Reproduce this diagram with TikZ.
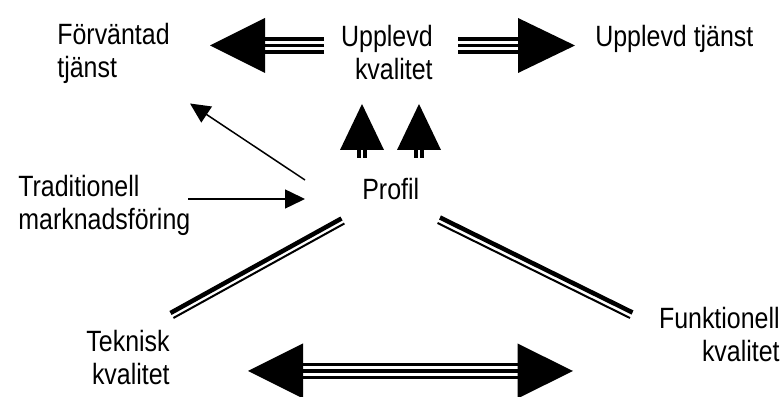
\documentclass[tikz,border=0pt]{standalone}
\usepackage{fontspec}
\setmainfont{Liberation Sans}[FakeStretch=0.85]
\usetikzlibrary{arrows.meta,calc}
\begin{document}
\begin{tikzpicture}[font=\fontsize{16.7}{19.3}\selectfont, >={Triangle[length=0.4cm,width=0.38cm]},
    lbl/.style={inner sep=0pt},
    shaft/.style={line width=0.07cm},
    stem/.style={line width=0.08cm},
    arr/.style={->, line width=0.03cm},
    rail/.style={line width=0.09cm},
    rl/.style={line width=0.04cm}]
  \useasboundingbox (0,0) rectangle (15.64,7.94);
  % labels (base = last line)
  \node[lbl, anchor=base west, align=left] (fv) at (1.14,6.38) {Förväntad\\tjänst};
  \node[lbl, anchor=base east, align=right] (uk) at (8.66,6.34) {Upplevd\\kvalitet};
  \node[lbl, anchor=base west] (ut) at (11.90,7.00) {Upplevd tjänst};
  \node[lbl, anchor=base west, align=left] (tm) at (0.36,3.34) {Traditionell\\marknadsföring};
  \node[lbl, anchor=base west] (pr) at (7.24,3.94) {Profil};
  \node[lbl, anchor=base east, align=right] (tk) at (3.40,0.24) {Teknisk\\kvalitet};
  \node[lbl, anchor=base east, align=right] (fk) at (15.60,0.70) {Funktionell\\kvalitet};
  % block arrow ends
  \coordinate (la) at (6.48,7.03); \coordinate (lb) at (5.30,7.03); \coordinate (lt) at (4.20,7.03);
  \coordinate (ra) at (9.16,7.03); \coordinate (rb) at (10.36,7.03); \coordinate (rt) at (11.50,7.03);
  \coordinate (bl) at (6.06,0.52); \coordinate (blt) at (4.96,0.52);
  \coordinate (br) at (10.35,0.52); \coordinate (brt) at (11.46,0.52);
  \foreach \dy in {-1,0,1} {
    \draw[shaft] ([yshift=\dy*0.134cm]la) -- ([yshift=\dy*0.134cm]lb);
    \draw[shaft] ([yshift=\dy*0.134cm]ra) -- ([yshift=\dy*0.134cm]rb);
    \draw[shaft] ([yshift=\dy*0.134cm]bl) -- ([yshift=\dy*0.134cm]br);
  }
  \fill ([yshift=0.55cm]lb) -- (lt) -- ([yshift=-0.55cm]lb) -- cycle;
  \fill ([yshift=0.55cm]rb) -- (rt) -- ([yshift=-0.55cm]rb) -- cycle;
  \fill ([yshift=0.55cm]bl) -- (blt) -- ([yshift=-0.55cm]bl) -- cycle;
  \fill ([yshift=0.55cm]br) -- (brt) -- ([yshift=-0.55cm]br) -- cycle;
  % small arrows up
  \foreach \x/\n in {7.24/1,8.38/2} {
    \coordinate (s\n) at (\x,4.78);
    \coordinate (h\n) at (\x,4.94);
    \coordinate (t\n) at (\x,5.86);
    \draw[stem] ([xshift=-0.06cm]s\n) -- ([xshift=-0.06cm]h\n);
    \draw[stem] ([xshift=0.06cm]s\n) -- ([xshift=0.06cm]h\n);
    \fill ([xshift=-0.44cm]h\n) -- (t\n) -- ([xshift=0.44cm]h\n) -- cycle;
  }
  % thin arrows
  \coordinate (pa) at (6.10,4.34); \coordinate (fa) at (3.80,5.87);
  \coordinate (ta) at (3.76,3.96); \coordinate (pb) at (6.10,3.96);
  \draw[arr] (pa) -- (fa);
  \draw[arr] (ta) -- (pb);
  % rails to the two qualities
  \coordinate (p1) at (6.83,3.57); \coordinate (k1) at (3.41,1.68);
  \coordinate (p2) at (8.80,3.59); \coordinate (k2) at (12.65,1.69);
  \draw[rail] (p1) -- (k1);
  \draw[rl] ([shift={(0.058,-0.10)}]p1) -- ([shift={(0.058,-0.10)}]k1);
  \draw[rail] (p2) -- (k2);
  \draw[rl] ([shift={(-0.05,-0.11)}]p2) -- ([shift={(-0.05,-0.11)}]k2);
\end{tikzpicture}
\end{document}
